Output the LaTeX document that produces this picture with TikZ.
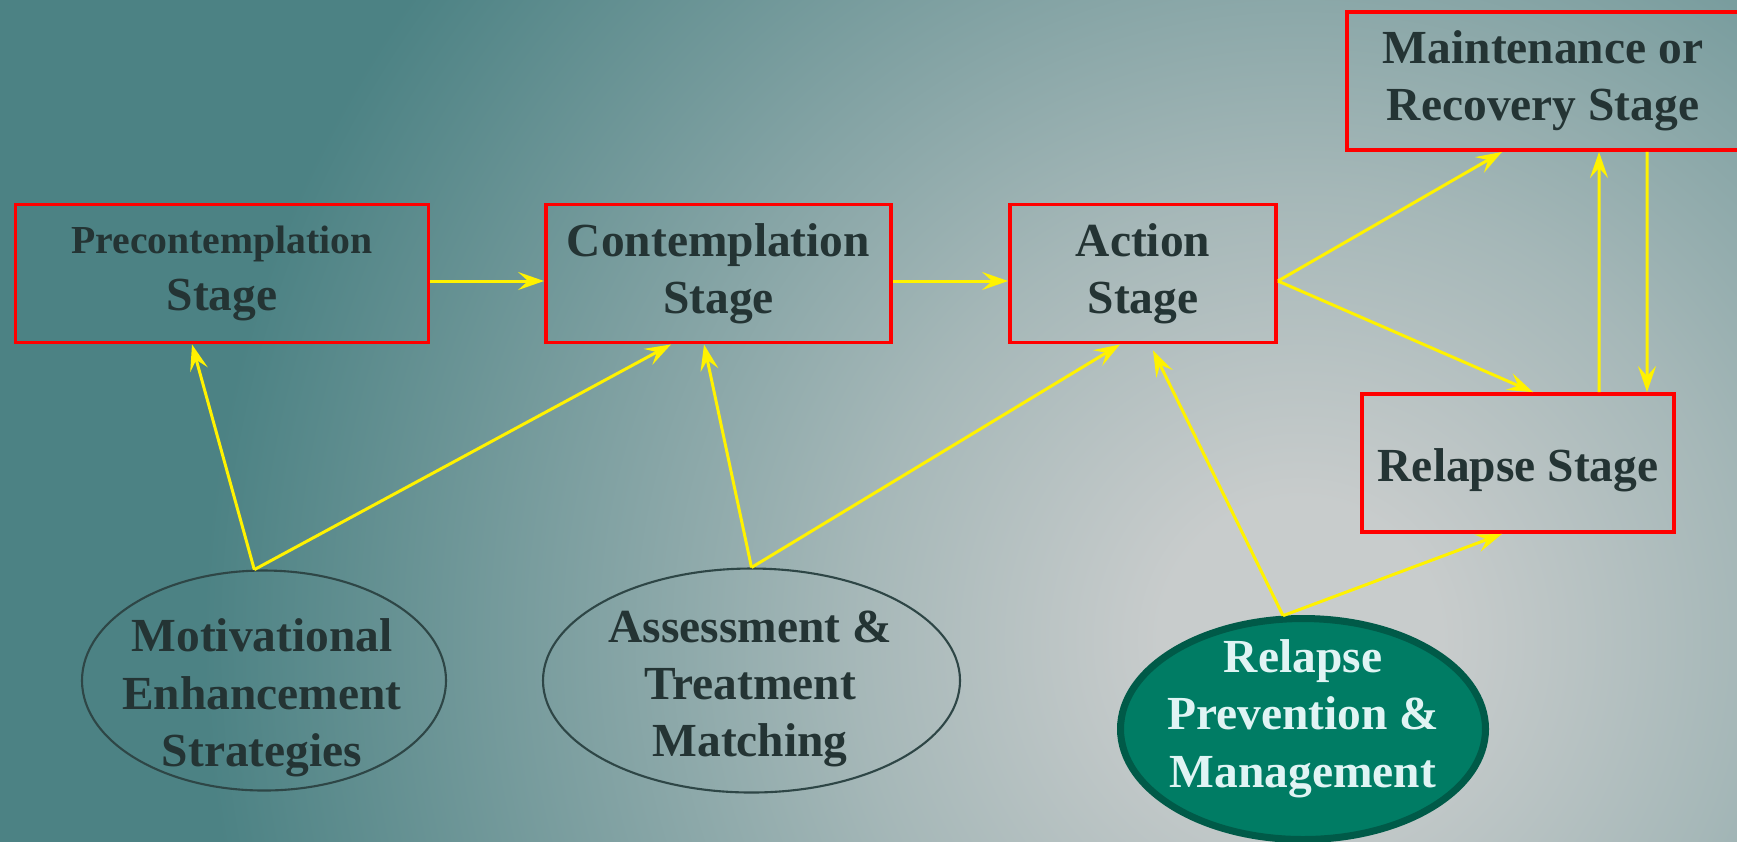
\documentclass[tikz,border=0pt]{standalone}
\usepackage{fontspec}
\setmainfont{Liberation Serif}
\usetikzlibrary{arrows.meta,shapes.geometric}
\definecolor{bgteal}{RGB}{76,130,132}
\definecolor{bglight}{RGB}{200,204,204}
\definecolor{inkdark}{RGB}{36,52,52}
\definecolor{rimdark}{RGB}{46,70,70}
\definecolor{rpmfill}{RGB}{0,124,100}
\definecolor{rpmrim}{RGB}{0,90,72}
\definecolor{rpmink}{RGB}{224,244,244}
\pgfdeclareradialshading{bgglow}{\pgfpoint{0bp}{0bp}}{color(0bp)=(bglight); color(2.5bp)=(bglight); color(8bp)=(bglight!72!bgteal); color(19.6bp)=(bgteal); color(50bp)=(bgteal)}
\begin{document}
\begin{tikzpicture}[x=0.1mm,y=-0.1mm,
    font=\fontsize{13.5}{16.3}\selectfont\bfseries,
    stagebox/.style={draw=red,line width=1.1pt,text=inkdark,align=center,minimum height=13.8mm,inner sep=0pt},
    plainell/.style={ellipse,draw=rimdark,line width=0.6pt},
    elltext/.style={text=inkdark,align=center},
    link/.style={draw=yellow,line width=0.85pt,-{Stealth[length=2.6mm,width=1.8mm,inset=1mm]}}]
   \useasboundingbox (0,0) rectangle (1737,841);
   \begin{scope}
      \clip (0,0) rectangle (1737,841);
      \fill[bgteal] (0,0) rectangle (1737,841);
      \shade[shading=bgglow] (1300,640) circle [radius=14cm];
   \end{scope}
   % stages
   \node[stagebox,minimum width=41.3mm] (pre) at (222,273.5) {{\fontsize{11.3}{13}\selectfont Precontemplation}\\Stage};
   \node[stagebox,minimum width=34.5mm] (cont) at (718.5,273.5) {Contemplation\\Stage};
   \node[stagebox,minimum width=26.6mm] (act) at (1143,273.5) {Action\\Stage};
   \node[stagebox,minimum width=39.2mm] (maint) at (1543,81) {Maintenance or\\Recovery Stage};
   \node[stagebox,minimum width=31.2mm,text height=3.6mm,text depth=0pt] (rel) at (1518,463) {Relapse Stage};
   % interventions
   \node[plainell,minimum width=36.4mm,minimum height=22mm] (mot) at (264,680.5) {};
   \node[elltext] (mottxt) at (262,698) {Motivational\\Enhancement\\Strategies};
   \node[plainell,minimum width=41.7mm,minimum height=22.4mm] (ass) at (751.5,680.5) {};
   \node[elltext] (asstxt) at (750,689) {Assessment \&\\Treatment\\Matching};
   \node[ellipse,draw=rpmrim,fill=rpmfill,line width=2pt,minimum width=36.5mm,minimum height=22.1mm] (rpm) at (1303,729) {};
   \node[text=rpmink,align=center] (rpmtxt) at (1303,718.5) {Relapse\\Prevention \&\\Management};
   % arrows
   \draw[link] ([yshift=-0.75mm]pre.east) -- ([yshift=-0.75mm]cont.west);
   \draw[link] ([yshift=-0.75mm]cont.east) -- ([yshift=-0.75mm]act.west);
   \draw[link] ([yshift=-0.75mm]act.east) -- ([xshift=-4.1mm]maint.south);
   \draw[link] ([yshift=-0.75mm]act.east) -- ([xshift=1.5mm]rel.north);
   \draw[link] ([xshift=8.1mm]rel.north) -- ([xshift=5.6mm]maint.south);
   \draw[link] ([xshift=10.4mm]maint.south) -- ([xshift=12.9mm]rel.north);
   \draw[link] (mot.95) -- ([xshift=-3mm]pre.south);
   \draw[link] (mot.95) -- ([xshift=-4.75mm]cont.south);
   \draw[link] (ass.north) -- ([xshift=-1.45mm]cont.south);
   \draw[link] (ass.north) -- ([xshift=-2.3mm]act.south);
   \draw[link] (rpm.100) -- ([xshift=1mm,yshift=-0.6mm]act.south);
   \draw[link] (rpm.100) -- ([xshift=-1.6mm]rel.south);
\end{tikzpicture}
\end{document}
